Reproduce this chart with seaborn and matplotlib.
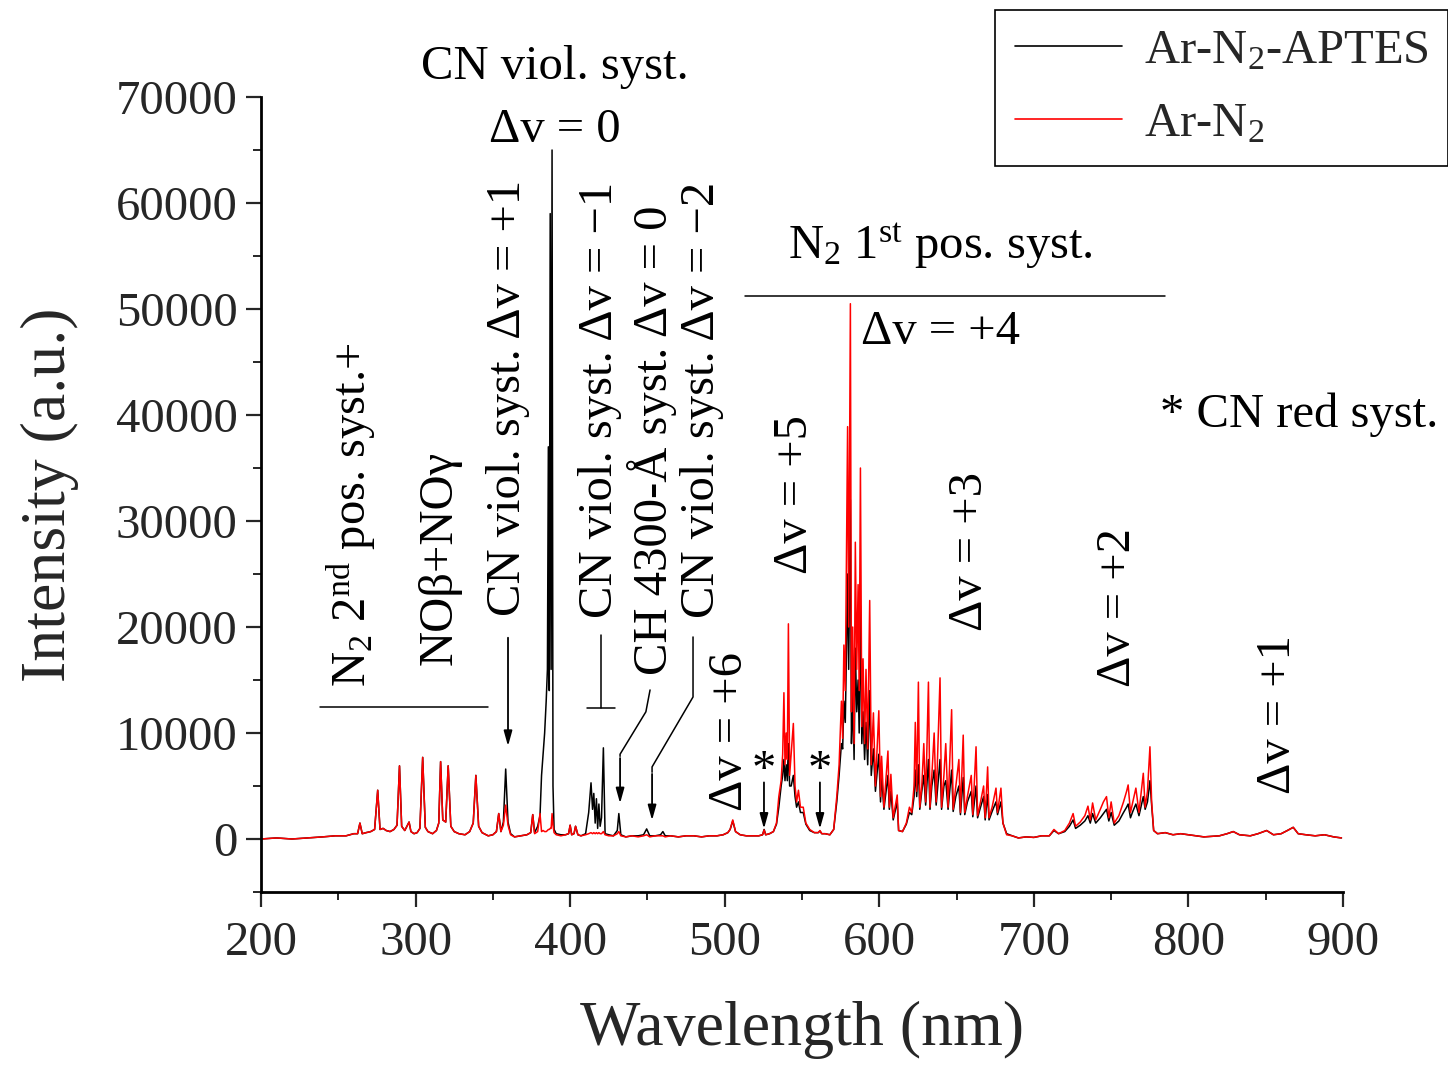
import numpy as np
import pandas as pd
import matplotlib
matplotlib.use("Agg")
import matplotlib.pyplot as plt
import seaborn as sns

# ---------------- data ----------------
wavelength = [
    200, 210, 220, 230, 240, 248, 255, 260, 262.5, 264, 265.5, 268, 271, 273.5, 275.5, 277, 279, 281, 283.5, 286,
    288, 289.6, 291, 293, 295.8, 297, 299,
    301, 302.8, 304.6, 306.3, 308, 311, 313.5, 315, 316.2, 317.6, 319.5, 321.1, 322.8, 325, 328, 332, 335, 337.3,
    339, 340.8, 343, 347, 350, 352.3, 353.8, 355.2, 356.8, 358.3, 359.8, 361.5,
    364, 368, 372, 374.5, 375.8, 377, 379, 380.5, 381.5, 382.5, 383.5, 384.5, 385.3, 385.9, 386.5, 387.1, 387.7,
    388.3, 388.9, 389.6, 391, 394, 397, 399, 400, 401, 402.5, 403.5, 405,
    407, 410, 412, 413.5, 414.5, 415.3, 416.2, 417, 417.8, 418.6, 419.4, 420.3, 421.5, 422.6, 425, 428, 430.5,
    431.5, 432.8, 436, 440, 444, 447.5, 449.5, 451.5, 455, 458.5, 460, 461.5, 465, 470, 475, 480, 485, 490, 495, 499,
    502, 503.5, 505.2, 507, 510, 514, 518, 522, 524.5, 525.5, 526.5, 529, 531.5, 533.5, 535, 536.5, 537.5, 538.3,
    539, 539.8, 540.5, 541.2, 542, 543, 544.4, 545.5, 546.5, 547.7, 549, 550.8, 552.5, 555, 558, 560.5, 561.6,
    562.8, 565, 568, 570.5,
    572.5, 574, 575.5, 576.3, 577.1, 578, 578.8, 579.5, 580.2, 581.3, 582, 582.8, 583.7, 584.5, 585.4, 586.3, 587,
    587.8, 588.7, 589.5, 590.5, 591.4, 592.5, 593.8, 594.8, 596.2, 597.5, 599.7, 600.8, 601.5, 603, 605.6, 606.5,
    607.5, 609, 611.6,
    612.5, 615, 617.5, 619.5, 621, 622.5, 623.3, 624.2, 625.3, 626.2, 627.5, 628.8, 630, 631.8, 632.8, 634, 635.5,
    636.8, 639.3, 640.3, 641.8, 643, 644.5, 646.8, 647.8, 649.5, 651.5, 652.5, 654.3, 655.3, 657, 659.5, 660.5,
    662.6, 663.6, 665.5, 667.5, 668.5, 670.1, 671, 673, 675.5, 676.5, 678.7, 680, 682.4,
    686, 690, 695, 700, 705, 710, 713, 716, 720, 723, 725.4, 727, 730, 733, 735, 736.5, 738, 740, 743, 745, 747,
    748.5, 750, 752, 755, 758, 760, 761, 762.5, 764, 766, 768, 770.8, 772, 773.5, 775.1, 776.2, 777.5, 780,
    785, 790, 795, 800, 805, 810, 815, 820, 825, 829, 833, 840, 845, 850.6, 855, 860, 864, 867.8, 871, 876, 882,
    888, 894, 899,
]

ar_n2 = [
    0, 100, 0, 100, 200, 300, 300, 500, 500, 1500, 500, 600, 700, 900, 4600, 900, 1000, 800, 700, 900,
    1300, 6900, 1200, 800, 1600, 700, 500,
    600, 1000, 7700, 1100, 700, 500, 800, 1500, 7300, 1800, 1600, 6900, 1200, 700, 500, 400, 700, 1500,
    6000, 1200, 600, 300, 400, 700, 2400, 700, 1300, 3200, 1300, 400,
    200, 300, 400, 600, 2300, 500, 700, 2400, 700, 800, 700, 700, 800, 900, 900, 1000, 1000,
    2400, 1300, 600, 400, 300, 400, 500, 1300, 400, 500, 1200, 400,
    300, 400, 500, 600, 500, 600, 500, 600, 500, 600, 500, 500, 700, 400, 300, 300, 500,
    700, 300, 200, 300, 200, 300, 400, 200, 300, 300, 300, 200, 300, 200, 300, 300, 200, 300, 300, 400,
    600, 900, 1800, 700, 400, 300, 300, 300, 400, 850, 400, 500, 700, 1500, 4000, 5500, 8000, 13800,
    7000, 10000, 7500, 20300, 6000, 8000, 10900, 5000, 3500, 4600, 3000, 3000, 1500, 900, 600, 600, 800,
    500, 500, 400, 900,
    4000, 7000, 13000, 9500, 18300, 14000, 27000, 38900, 20000, 50500, 12000, 20000, 9000, 28000, 16000, 24000, 14000,
    35000, 10600, 17000, 9000, 16000, 8500, 22500, 7000, 11900, 5000, 12100, 4000, 7800, 3000, 8300, 3000,
    6100, 2000, 4150,
    800, 700, 1500, 3000, 2500, 5000, 11000, 4500, 14800, 3000, 5000, 9000, 3500, 14800, 3000, 6000, 10000,
    3500, 15200, 3000, 6000, 9000, 3000, 12200, 2800, 5000, 7500, 2500, 9800, 2500, 4000, 6000, 2300,
    8700, 2200, 3500, 5000, 2000, 6800, 2000, 3000, 4800, 2500, 4800, 1500, 400,
    300, 100, 200, 150, 300, 300, 900, 500, 800, 1500, 2400, 1200, 1600, 2200, 3100, 1800, 3400, 1800, 2800, 3500, 4000,
    2000, 3500, 1500, 2200, 3500, 4500, 5100, 2500, 3500, 4800, 2500, 6200, 3000, 4500, 8700, 3500, 800, 500,
    600, 400, 500, 400, 300, 200, 250, 300, 500, 700, 400, 300, 500, 800, 400, 500, 800, 1100, 500, 400, 300,
    400, 200, 100,
]

ar_n2_aptes = [
    0, 100, 0, 100, 200, 300, 300, 500, 500, 1500, 500, 600, 700, 900, 4600, 900, 1000, 800, 700, 900,
    1300, 6900, 1200, 800, 1600, 700, 500,
    600, 1000, 7700, 1100, 700, 500, 800, 1500, 7300, 1800, 1600, 6900, 1200, 700, 500, 400, 700, 1500,
    6000, 1200, 600, 300, 400, 700, 2400, 700, 1600, 6600, 1600, 500,
    200, 300, 400, 600, 2300, 600, 1200, 2200, 6000, 8000, 10000, 13000, 16000, 37000, 14000, 59000, 16000,
    65000, 5000, 900, 500, 400, 400, 500, 1300, 400, 500, 1200, 400,
    300, 500, 2500, 5300, 2800, 4300, 1500, 3800, 1000, 3300, 1200, 2000, 8600, 500, 400, 300, 800,
    2400, 400, 200, 300, 300, 400, 950, 300, 300, 400, 700, 300, 300, 200, 300, 300, 200, 300, 300, 400,
    600, 900, 1700, 700, 400, 300, 300, 300, 400, 900, 400, 500, 700, 1400, 3000, 5000, 6000, 7500,
    5500, 7000, 5500, 9000, 5000, 5000, 6000, 4000, 3000, 3500, 2500, 2500, 1400, 800, 600, 600, 750,
    500, 500, 400, 900,
    3500, 6000, 9000, 8500, 13000, 11000, 18000, 25000, 16000, 32000, 9000, 14000, 7500, 18000, 12000, 15000, 10000,
    22000, 9000, 12000, 7500, 11000, 7000, 14000, 6000, 8500, 4500, 8000, 3500, 6000, 2800, 6000, 2800,
    4500, 1800, 3500,
    800, 700, 1400, 2500, 2300, 4000, 6500, 4000, 7000, 2800, 4500, 6000, 3200, 7500, 2800, 5000, 6500,
    3200, 7500, 2800, 5000, 5500, 2800, 6500, 2600, 4000, 5000, 2300, 5800, 2300, 3500, 4500, 2100,
    5000, 2000, 3000, 4000, 1800, 4200, 1800, 2600, 3500, 2300, 3500, 1500, 500,
    300, 100, 200, 150, 300, 300, 800, 500, 700, 1200, 1800, 1000, 1300, 1700, 2200, 1500, 2400, 1500, 2000, 2400, 2800,
    1700, 2500, 1300, 1700, 2500, 3000, 3300, 2000, 2600, 3300, 2200, 4000, 2800, 3500, 5500, 3200, 800, 500,
    600, 400, 500, 400, 300, 200, 250, 300, 500, 700, 400, 300, 500, 800, 400, 500, 800, 1100, 500, 400, 300,
    400, 200, 100,
]

series_labels = ["Ar-N$_2$-APTES", "Ar-N$_2$"]
x_ticks = [200, 300, 400, 500, 600, 700, 800, 900]
y_ticks = [0, 10000, 20000, 30000, 40000, 50000, 60000, 70000]

df = pd.DataFrame({"wl": wavelength, "aptes": ar_n2_aptes, "ar": ar_n2})

# ---------------- style ----------------
sns.set_style("ticks")
plt.rcParams["font.family"] = ["Liberation Serif", "DejaVu Serif"]
plt.rcParams["mathtext.fontset"] = "custom"
plt.rcParams["mathtext.rm"] = "Liberation Serif"
plt.rcParams["mathtext.it"] = "Liberation Serif:italic"
plt.rcParams["mathtext.bf"] = "Liberation Serif:bold"

FS = 35
fig = plt.figure(figsize=(14.48, 10.67), dpi=100)
ax = fig.add_axes([261 / 1448, 175 / 1067, 1082 / 1448, 795 / 1067])

sns.lineplot(data=df, x="wl", y="aptes", ax=ax, color="black", lw=1.1, label=series_labels[0], estimator=None)
sns.lineplot(data=df, x="wl", y="ar", ax=ax, color="#ff0000", lw=1.1, label=series_labels[1], estimator=None)

ax.set_xlim(200, 900)
ax.set_ylim(-5000, 70000)
ax.set_xticks(x_ticks)
ax.set_yticks(y_ticks)
ax.set_xticks(np.arange(250, 900, 100), minor=True)
ax.set_yticks(np.arange(-5000, 70000, 10000), minor=True)
ax.tick_params(axis="both", which="major", direction="out", length=11, width=1.6, labelsize=FS, pad=6)
ax.tick_params(axis="both", which="minor", direction="out", length=6, width=1.4)
ax.tick_params(axis="x", which="major", pad=10)
for s in ["top", "right"]:
    ax.spines[s].set_visible(False)
for s in ["left", "bottom"]:
    ax.spines[s].set_linewidth(2.0)
    ax.spines[s].set_color("black")

ax.set_xlabel("Wavelength (nm)", fontsize=46, labelpad=26)
ax.set_ylabel("Intensity (a.u.)", fontsize=46, labelpad=26)

# legend
leg = ax.legend(loc="upper right", bbox_to_anchor=(1.0, 0.991), bbox_transform=fig.transFigure,
                borderaxespad=0.0,
                fontsize=FS, frameon=True, fancybox=False, edgecolor="black", framealpha=1,
                handlelength=2.2, labelspacing=0.6, borderpad=0.4, handletextpad=0.45)
leg.get_frame().set_linewidth(1.2)
for h in leg.get_lines():
    h.set_linewidth(1.2)

# ---------------- annotations ----------------
kw = dict(fontsize=FS, color="black", clip_on=False)
vkw = dict(rotation=90, ha="center", va="center", **kw)

ax.text(390.2, 72800, "CN viol. syst.", ha="center", va="center", **kw)
ax.text(390.2, 66900, "Δv = 0", ha="center", va="center", **kw)

ax.text(258.5, 30600, "N$_2$ 2$^{\\mathrm{nd}}$ pos. syst.+", **vkw)
ax.text(315.8, 26500, "NOβ+NOγ", **vkw)
ax.plot([238.2, 346.9], [12450, 12450], color="black", lw=1.1)

ax.text(359.8, 41600, "CN viol. syst. Δv = +1", **vkw)
arrow = dict(arrowstyle="-|>,head_length=0.9,head_width=0.25", color="black", lw=1.3)
ax.annotate("", xy=(359.8, 8500), xytext=(359.8, 19250), arrowprops=arrow)

ax.text(419.5, 41400, "CN viol. syst. Δv = −1", **vkw)
ax.plot([420.0, 420.0], [19250, 12360], color="black", lw=1.1)
ax.plot([411.0, 429.0], [12360, 12360], color="black", lw=1.1)

ax.text(453.0, 37600, "CH 4300-Å syst. Δv = 0", **vkw)
ax.plot([451.7, 449.0, 432.3, 432.3], [14060, 12000, 8000, 7800], color="black", lw=1.1)
ax.annotate("", xy=(432.3, 3100), xytext=(432.3, 7900), arrowprops=arrow)

ax.text(485.3, 41400, "CN viol. syst. Δv = −2", **vkw)
ax.plot([479.5, 479.5, 453.0, 453.0], [19060, 13400, 6800, 6300], color="black", lw=1.1)
ax.annotate("", xy=(453.0, 1500), xytext=(453.0, 6400), arrowprops=arrow)

ax.text(503.4, 10100, "Δv = +6", **vkw)
for xs in (525.4, 561.6):
    ax.text(xs, 6400, "*", ha="center", va="center", **kw)
    ax.annotate("", xy=(xs, 700), xytext=(xs, 5600), arrowprops=arrow)

ax.text(545.5, 32450, "Δv = +5", **vkw)
ax.text(639.3, 56000, "N$_2$ 1$^{\\mathrm{st}}$ pos. syst.", ha="center", va="center", **kw)
ax.plot([513.1, 784.8], [51230, 51230], color="black", lw=1.1)
ax.text(639.3, 47800, "Δv = +4", ha="center", va="center", **kw)
ax.text(871.5, 40000, "* CN red syst.", ha="center", va="center", **kw)
ax.text(658.7, 27080, "Δv = +3", **vkw)
ax.text(754.4, 21800, "Δv = +2", **vkw)
ax.text(858.0, 11700, "Δv = +1", **vkw)

fig.savefig("out.png", dpi=100)
